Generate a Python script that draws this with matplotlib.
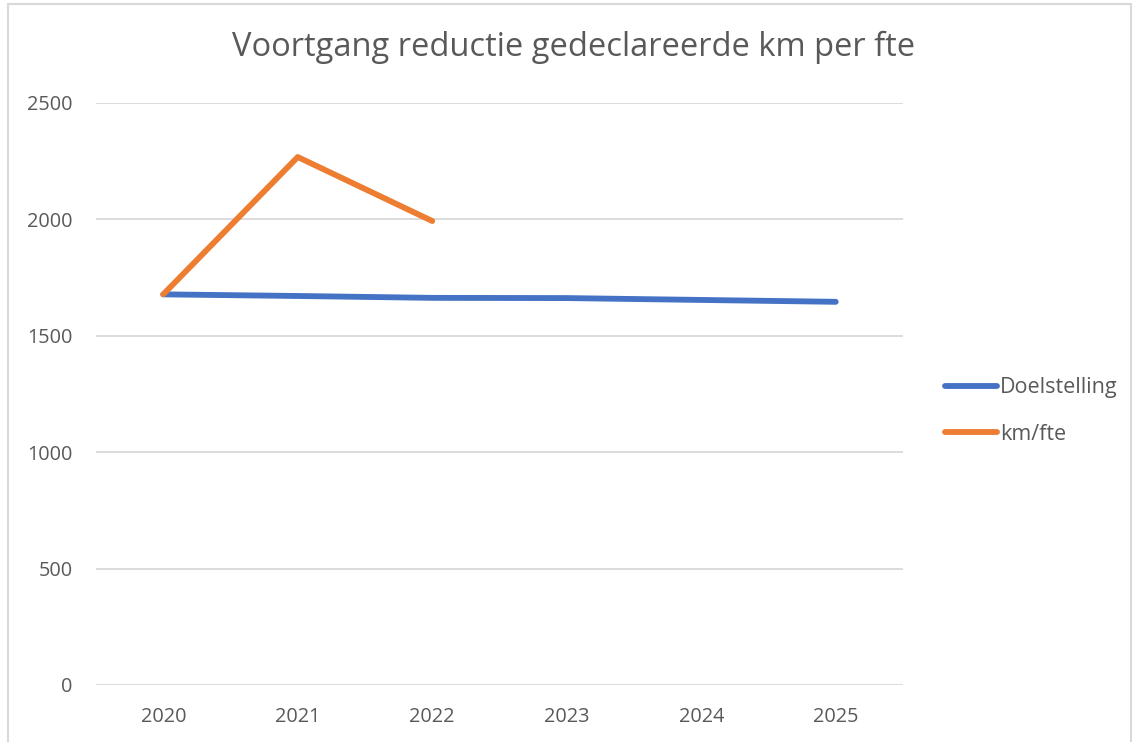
import matplotlib.pyplot as plt
from matplotlib.patches import Rectangle

years = ['2020', '2021', '2022', '2023', '2024', '2025']
doelstelling = [1678, 1671, 1663, 1662, 1654, 1646]
km_fte = [1678, 2268, 1993]

blue = '#4472C4'
orange = '#ED7D31'
text_col = '#595959'

plt.rcParams['font.family'] = ['Open Sans', 'DejaVu Sans']

W, H = 1134, 742
fig = plt.figure(figsize=(W / 100, H / 100), dpi=100)

# chart frame (Excel-like border)
fig.patches.append(Rectangle((8 / W, -0.01), (1131 - 8) / W, (H - 4) / H + 0.01,
                             transform=fig.transFigure, fill=False,
                             edgecolor='#D9D9D9', linewidth=1.5))

ax = fig.add_axes([96 / W, 1 - 685 / H, (903 - 96) / W, (685 - 103) / H])
x = list(range(len(years)))

ax.plot(x, doelstelling, color=blue, linewidth=4.2, solid_capstyle='round',
        label='Doelstelling')
ax.plot(x[:len(km_fte)], km_fte, color=orange, linewidth=4.2,
        solid_capstyle='round', solid_joinstyle='round', label='km/fte')

ax.set_xlim(-0.5, len(years) - 0.5)
ax.set_ylim(0, 2500)
ax.set_yticks(range(0, 2501, 500))
ax.set_xticks(x)
ax.set_xticklabels(years)
ax.grid(axis='y', color='#D9D9D9', linewidth=1.3)
ax.set_axisbelow(True)
for s in ax.spines.values():
    s.set_visible(False)
ax.tick_params(length=0, labelsize=14.3, colors=text_col)
ax.tick_params(axis='y', pad=17)
ax.tick_params(axis='x', pad=16)

fig.text(574 / W, 1 - 47 / H, 'Voortgang reductie gedeclareerde km per fte',
         ha='center', va='center', fontsize=23.5, color=text_col)

leg = fig.legend(loc='center left', bbox_to_anchor=(926 / W, 1 - 411 / H),
                 frameon=False, fontsize=15.5, handlelength=2.4,
                 handletextpad=0.15, labelspacing=1.2)
for t in leg.get_texts():
    t.set_color(text_col)

fig.savefig('out.png', dpi=100)
